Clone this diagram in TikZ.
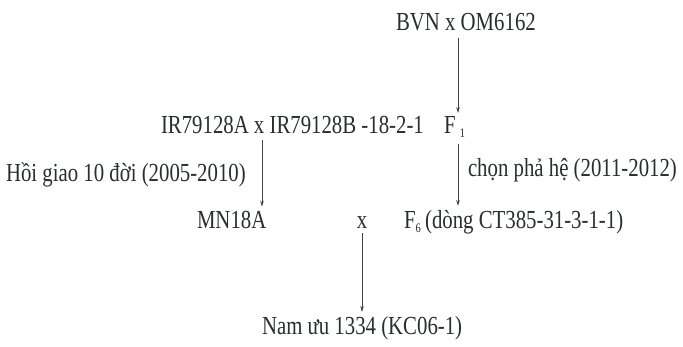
\documentclass[tikz,border=0pt]{standalone}
\usepackage{fontspec}
\setmainfont{Liberation Serif}[FakeStretch=0.80]
\usetikzlibrary{arrows.meta}
\definecolor{ink}{HTML}{2B2E2E}
\definecolor{wire}{HTML}{3F4545}
\newcommand{\lowidx}[1]{\raisebox{-0.35ex}{\fontsize{13}{13}\selectfont #1}}
\begin{document}
\begin{tikzpicture}[x=1pt,y=-1pt,
  lbl/.style={inner sep=0pt,outer sep=0pt,text=ink,font=\fontsize{26}{28}\selectfont},
  flow/.style={draw=wire,line width=0.7pt,-{Stealth[length=6pt,width=3.6pt]}}]
\useasboundingbox[fill=white] (0,0) rectangle (683,346);
% crosses and lines
\node[lbl,anchor=base west] (bvn) at (396,30) {BVN x OM6162};
\node[lbl,anchor=base west] (ir) at (161,133) {IR79128A x IR79128B -18-2-1};
\node[lbl,anchor=base west] (f1) at (444,133) {F\,\lowidx{1}};
\node[lbl,anchor=base west] (hg) at (6,181) {Hồi giao 10 đời (2005-2010)};
\node[lbl,anchor=base west] (cp) at (468,176) {chọn phả hệ (2011-2012)};
\node[lbl,anchor=base west] (mn) at (197,228) {MN18A};
\node[lbl,anchor=base] (cx) at (362,228) {x};
\node[lbl,anchor=base west] (f6) at (404,228) {F\lowidx{6}\,(dòng CT385-31-3-1-1)};
\node[lbl,anchor=base west] (nu) at (262,334) {Nam ưu 1334 (KC06-1)};
% arrow columns
\coordinate (c1) at (262,0);
\coordinate (c2) at (458,0);
\draw[flow] ([yshift=-8pt]bvn.south -| c2) -- ([yshift=3pt]f1.north -| c2);
\draw[flow] ([yshift=-7pt]ir.south -| c1) -- ([yshift=4pt]mn.north -| c1);
\draw[flow] ([yshift=-7pt]f1.south -| c2) -- ([yshift=4pt]f6.north -| c2);
\draw[flow] ([yshift=-5pt]cx.south) -- ([yshift=4pt]nu.north -| cx);
\end{tikzpicture}
\end{document}
